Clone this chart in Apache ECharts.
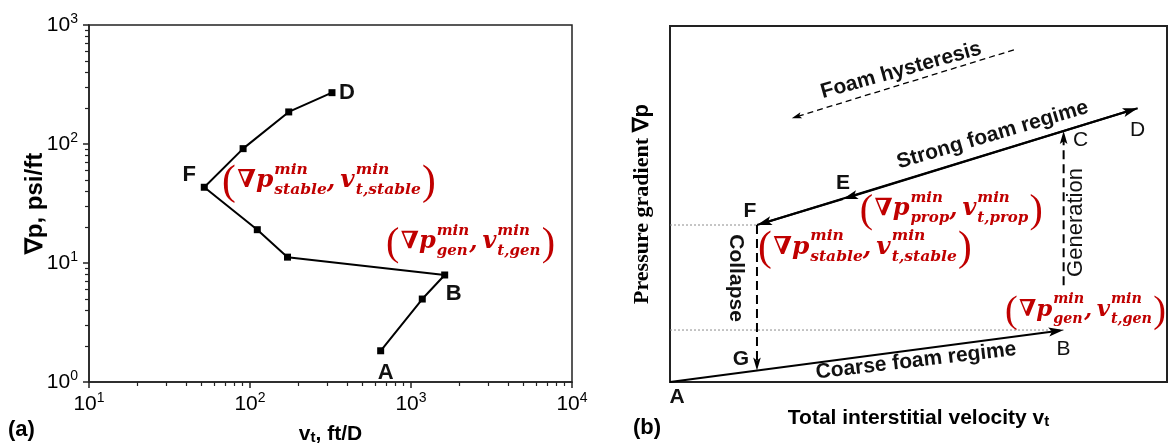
<!DOCTYPE html>
<html>
<head>
<meta charset="utf-8">
<script src="https://cdn.jsdelivr.net/npm/echarts@6.0.0/dist/echarts.min.js"></script>
<style>
  html, body { margin: 0; padding: 0; background: #fff; }
  #chart { width: 1168px; height: 446px; }
</style>
</head>
<body>
<div id="chart"></div>
<script>
// ---------- (a) measured foam path, listed in flow order ----------
const velocityA = [648, 1175, 1619, 171, 111, 52, 90.6, 174, 323];   // v_t, ft/D
const gradientA = [1.83, 4.98, 7.93, 11.2, 19.05, 43.3, 91.4, 186, 270]; // grad p, psi/ft
const pointNamesA = ['A', '', 'B', '', '', 'F', '', '', 'D'];

// minimum-condition labels in (a), anchored in axis units
const minLabelAX = [67, 700];
const minLabelAY = [48.9, 15.0];
const minLabelAKind = ['stable', 'gen'];

// ---------- (b) schematic states, arbitrary 0-100 units ----------
const schemeNames = ['A', 'B', 'C', 'D', 'E', 'F', 'G'];
const schemeX = [0, 79.2, 79.2, 94.1, 34.8, 17.5, 17.5];
const schemeY = [0, 14.6, 70.5, 76.9, 51.4, 44.1, 3.2];
const generationFrom = [79.2, 27.2];
const hysteresisFrom = [69.2, 93.3];
const hysteresisTo = [24.5, 74.1];

const captionTexts = ['Foam hysteresis', 'Strong foam regime', 'Coarse foam regime', 'Collapse', 'Generation'];
const captionX = [46.5, 64.9, 49.5, 13.3, 81.7];
const captionY = [87.5, 69.4, 5.9, 29.2, 44.8];

const minLabelBX = [38.2, 17.7, 67.4];
const minLabelBY = [48.6, 37.9, 20.2];
const minLabelBKind = ['prop', 'stable', 'gen'];

// ---------- styling ----------
const RED = '#c00000';
const INK = '#111';
const SANS = '"Liberation Sans", Arial, sans-serif';
const MATH = '"DejaVu Serif", serif';

const letterOffsetA = { A: [5, 22], B: [9, 19], F: [-15, -12], D: [15, 0] };
const letterOffsetB = { A: [7, 15], B: [0, 19], C: [17, 9], D: [0, 22], E: [0, -16], F: [-7, -14], G: [-16, -11] };
const letterBoldB = { A: true, E: true, F: true, G: true };
const minLabelWidthA = [214, 169];
const minLabelWidthB = [183, 214, 161];
const captionStyle = [
  { angle: 15.5, font: 'bold 21px ' + SANS },
  { angle: 16.4, font: 'bold 21px ' + SANS },
  { angle: 6.7, font: 'bold 21px ' + SANS },
  { angle: -90, font: 'bold 21px ' + SANS },
  { angle: 90, font: 'normal 22px ' + SANS }
];
const segStyle = {
  solid:  { color: '#000', width: 2,   dash: null,   head: [15, 4.5] },
  dashed: { color: '#000', width: 2,   dash: [9, 5], head: [13, 3.8] },
  thin:   { color: '#000', width: 1.3, dash: [6, 4], head: [10, 3.2] },
  dotted: { color: '#8c8c8c', width: 1, dash: [2, 2], head: null }
};
const GRID_A = { left: 89, top: 25, width: 483, height: 357 };
const GRID_B = { left: 670, top: 26, width: 497, height: 356 };

// ---------- helpers ----------
const measureCtx = document.createElement('canvas').getContext('2d');
function textWidth(str, font) { measureCtx.font = font; return measureCtx.measureText(str).width; }
function schemePoint(name) { const i = schemeNames.indexOf(name); return [schemeX[i], schemeY[i]]; }

// (grad p ^min_sub , v ^min_t,sub) typeset from separate runs, scaled to a given width
function minLabel(x, y, sub, targetWidth) {
  const sub2 = 't,' + sub;
  const build = (k) => {
    const M = 24 * k, S = 15 * k, PR = 40 * k;
    const fP = 'normal ' + PR + 'px "Liberation Serif", serif';
    const fM = 'italic bold ' + M + 'px ' + MATH;
    const fS = 'italic bold ' + S + 'px ' + MATH;
    const items = [];
    let cx = 0;
    const put = (text, font, dy) => items.push({ text, font, x: cx, dy });
    put('(', fP, 0.1 * M); cx += textWidth('(', fP) + 0.06 * M;
    put('\u2207p', fM, 0); cx += textWidth('\u2207p', fM) + 0.04 * M;
    put('min', fS, -0.46 * M); put(sub, fS, 0.38 * M);
    cx += Math.max(textWidth('min', fS), textWidth(sub, fS));
    put(',', fM, 0.04 * M); cx += textWidth(',', fM) + 0.2 * M;
    put('v', fM, 0); cx += textWidth('v', fM) + 0.04 * M;
    put('min', fS, -0.46 * M); put(sub2, fS, 0.38 * M);
    cx += Math.max(textWidth('min', fS), textWidth(sub2, fS)) + 0.05 * M;
    put(')', fP, 0.1 * M); cx += textWidth(')', fP);
    return { items, width: cx };
  };
  const k = targetWidth / build(1).width;
  const laid = build(k);
  return {
    type: 'group',
    children: laid.items.map(it => ({
      type: 'text', x: x + it.x, y: y + it.dy,
      style: { text: it.text, font: it.font, fill: RED, align: 'left', verticalAlign: 'middle' }
    }))
  };
}

// ---------- (b) segment table built from the named points ----------
const segments = [
  [[0, schemePoint('F')[1]], schemePoint('F'), 'dotted'],
  [[0, schemePoint('B')[1]], schemePoint('B'), 'dotted'],
  [schemePoint('A'), schemePoint('B'), 'solid'],
  [schemePoint('F'), schemePoint('D'), 'solid'],
  [schemePoint('D'), schemePoint('E'), 'solid'],
  [schemePoint('E'), schemePoint('F'), 'solid'],
  [schemePoint('F'), schemePoint('G'), 'dashed'],
  [generationFrom, schemePoint('C'), 'dashed'],
  [hysteresisFrom, hysteresisTo, 'thin']
];

const expLabel = v => '10{s|' + Math.round(Math.log10(v)) + '}';
const tickLabelStyle = {
  color: '#000', fontFamily: SANS, fontSize: 21, lineHeight: 26,
  formatter: expLabel,
  rich: { s: { fontSize: 14, fontFamily: SANS, color: '#000', verticalAlign: 'top', lineHeight: 16 } }
};
// log axes of (a): outward ticks at decades, nine-way minor split gives the 2..9 marks
const logAxisParts = {
  axisLine: { show: true, lineStyle: { color: '#222', width: 1.5 } },
  axisTick: { show: true, length: 6, lineStyle: { color: '#222', width: 1.5 } },
  minorTick: { show: true, splitNumber: 9, length: 4, lineStyle: { color: '#222', width: 1.2 } },
  splitLine: { show: false },
  minorSplitLine: { show: false }
};

const chart = echarts.init(document.getElementById('chart'), null, { renderer: 'canvas' });

const option = {
  animation: false,
  backgroundColor: '#fff',
  textStyle: { fontFamily: SANS },
  grid: [
    Object.assign({ show: true, borderColor: '#222', borderWidth: 1.5, outerBoundsMode: 'none' }, GRID_A),
    Object.assign({ show: true, borderColor: '#222', borderWidth: 2, outerBoundsMode: 'none' }, GRID_B)
  ],
  xAxis: [
    Object.assign({
      type: 'log', logBase: 10, min: 10, max: 10000, splitNumber: 3, gridIndex: 0,
      axisLabel: Object.assign({ margin: 9 }, tickLabelStyle),
      name: 'v{t|t}, ft/D', nameLocation: 'middle', nameGap: 42, nameMoveOverlap: false,
      nameTextStyle: { color: '#000', fontSize: 21, fontWeight: 'bold', fontFamily: SANS,
        rich: { t: { fontSize: 15, fontWeight: 'bold', fontFamily: SANS, color: '#000', verticalAlign: 'bottom' } } }
    }, logAxisParts),
    {
      type: 'value', min: 0, max: 100, gridIndex: 1,
      axisLine: { show: false }, axisTick: { show: false }, axisLabel: { show: false }, splitLine: { show: false },
      name: 'Total interstitial velocity v{t|t}', nameLocation: 'middle', nameGap: 26, nameMoveOverlap: false,
      nameTextStyle: { color: '#000', fontSize: 21, fontWeight: 'bold', fontFamily: SANS,
        rich: { t: { fontSize: 15, fontWeight: 'bold', fontFamily: SANS, color: '#000', verticalAlign: 'bottom' } } }
    }
  ],
  yAxis: [
    Object.assign({
      type: 'log', logBase: 10, min: 1, max: 1000, splitNumber: 3, gridIndex: 0,
      axisLabel: Object.assign({ margin: 11 }, tickLabelStyle),
      name: '\u2207p, psi/ft', nameLocation: 'middle', nameGap: 42, nameMoveOverlap: false,
      nameTextStyle: { color: '#000', fontSize: 24, fontWeight: 'bold', fontFamily: SANS }
    }, logAxisParts),
    {
      type: 'value', min: 0, max: 100, gridIndex: 1,
      axisLine: { show: false }, axisTick: { show: false }, axisLabel: { show: false }, splitLine: { show: false },
      name: '{s|Pressure gradient }{n|\u2207p}', nameLocation: 'middle', nameGap: 17, nameMoveOverlap: false,
      nameTextStyle: { color: '#000',
        rich: {
          s: { fontSize: 22, fontWeight: 'bold', fontFamily: '"Liberation Serif", "Times New Roman", serif', color: '#000' },
          n: { fontSize: 22, fontWeight: 'bold', fontFamily: SANS, color: '#000' }
        } }
    }
  ],
  graphic: [
    { id: 'tagA', type: 'text', left: 8, top: 419, style: { text: '(a)', font: 'bold 22px ' + SANS, fill: '#000' } },
    { id: 'tagB', type: 'text', left: 633, top: 417, style: { text: '(b)', font: 'bold 22px ' + SANS, fill: '#000' } }
  ],
  series: [
    // (a) foam path
    {
      type: 'line', xAxisIndex: 0, yAxisIndex: 0, z: 4,
      data: velocityA.map((v, i) => [v, gradientA[i]]),
      symbol: 'rect', symbolSize: 7,
      lineStyle: { color: '#000', width: 2 },
      itemStyle: { color: '#000' }
    },
    // (a) state letters
    {
      type: 'custom', xAxisIndex: 0, yAxisIndex: 0, silent: true, z: 5, clip: false,
      data: pointNamesA.map((n, i) => [velocityA[i], gradientA[i], i]).filter(d => pointNamesA[d[2]]),
      renderItem: (params, api) => {
        const name = pointNamesA[api.value(2)];
        const p = api.coord([api.value(0), api.value(1)]);
        const off = letterOffsetA[name];
        return { type: 'text', x: p[0] + off[0], y: p[1] + off[1],
          style: { text: name, font: 'bold 22px ' + SANS, fill: INK, align: 'center', verticalAlign: 'middle' } };
      }
    },
    // (a) minimum-condition labels
    {
      type: 'custom', xAxisIndex: 0, yAxisIndex: 0, silent: true, z: 6, clip: false,
      data: minLabelAX.map((x, i) => [x, minLabelAY[i]]),
      renderItem: (params, api) => {
        const p = api.coord([api.value(0), api.value(1)]);
        return minLabel(p[0], p[1], minLabelAKind[params.dataIndex], minLabelWidthA[params.dataIndex]);
      }
    },
    // (b) regime lines, transitions and guides
    {
      type: 'custom', xAxisIndex: 1, yAxisIndex: 1, silent: true, z: 4, clip: false,
      encode: { x: [0, 2], y: [1, 3] },
      data: segments.map(s => [s[0][0], s[0][1], s[1][0], s[1][1]]),
      renderItem: (params, api) => {
        const st = segStyle[segments[params.dataIndex][2]];
        const p1 = api.coord([api.value(0), api.value(1)]);
        const p2 = api.coord([api.value(2), api.value(3)]);
        const dx = p2[0] - p1[0], dy = p2[1] - p1[1];
        const len = Math.hypot(dx, dy), ux = dx / len, uy = dy / len;
        const children = [];
        let end = p2;
        if (st.head) {
          const L = st.head[0], W = st.head[1];
          const bx = p2[0] - ux * L, by = p2[1] - uy * L, nx = -uy, ny = ux;
          children.push({ type: 'polygon', z2: 2,
            shape: { points: [p2, [bx + nx * W, by + ny * W], [p2[0] - ux * L * 0.78, p2[1] - uy * L * 0.78], [bx - nx * W, by - ny * W]] },
            style: { fill: st.color } });
          end = [p2[0] - ux * L * 0.7, p2[1] - uy * L * 0.7];
        }
        children.unshift({ type: 'line', shape: { x1: p1[0], y1: p1[1], x2: end[0], y2: end[1] },
          style: { stroke: st.color, lineWidth: st.width, lineDash: st.dash } });
        return { type: 'group', children };
      }
    },
    // (b) state letters
    {
      type: 'custom', xAxisIndex: 1, yAxisIndex: 1, silent: true, z: 5, clip: false,
      data: schemeX.map((x, i) => [x, schemeY[i]]),
      renderItem: (params, api) => {
        const name = schemeNames[params.dataIndex];
        const p = api.coord([api.value(0), api.value(1)]);
        const off = letterOffsetB[name];
        return { type: 'text', x: p[0] + off[0], y: p[1] + off[1],
          style: { text: name, font: (letterBoldB[name] ? 'bold ' : 'normal ') + '21px ' + SANS, fill: INK, align: 'center', verticalAlign: 'middle' } };
      }
    },
    // (b) regime captions
    {
      type: 'custom', xAxisIndex: 1, yAxisIndex: 1, silent: true, z: 5, clip: false,
      data: captionX.map((x, i) => [x, captionY[i]]),
      renderItem: (params, api) => {
        const cs = captionStyle[params.dataIndex];
        const p = api.coord([api.value(0), api.value(1)]);
        return { type: 'text', x: p[0], y: p[1], rotation: cs.angle * Math.PI / 180,
          style: { text: captionTexts[params.dataIndex], font: cs.font, fill: INK, align: 'center', verticalAlign: 'middle' } };
      }
    },
    // (b) minimum-condition labels
    {
      type: 'custom', xAxisIndex: 1, yAxisIndex: 1, silent: true, z: 6, clip: false,
      data: minLabelBX.map((x, i) => [x, minLabelBY[i]]),
      renderItem: (params, api) => {
        const p = api.coord([api.value(0), api.value(1)]);
        return minLabel(p[0], p[1], minLabelBKind[params.dataIndex], minLabelWidthB[params.dataIndex]);
      }
    }
  ]
};

chart.setOption(option);
</script>
</body>
</html>
